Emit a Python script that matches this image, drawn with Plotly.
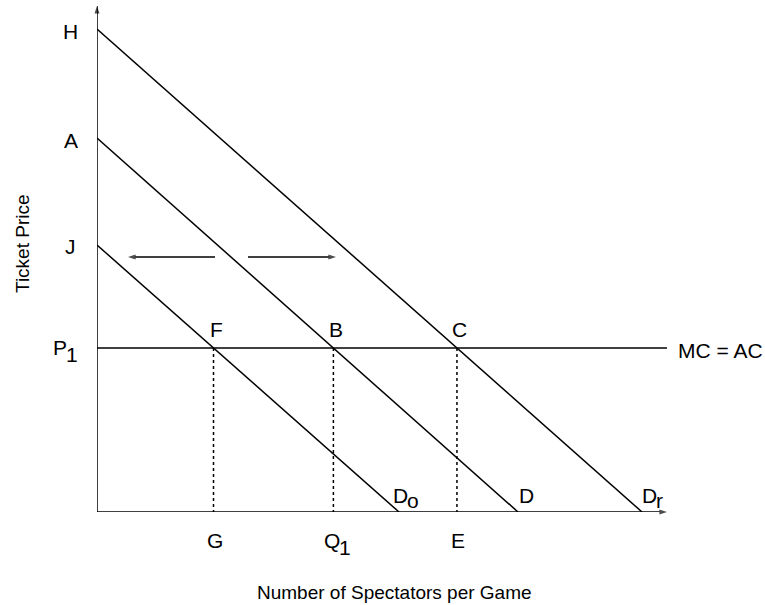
import plotly.graph_objects as go

# Demand curves: price intercept (vertical axis) and quantity intercept (horizontal axis)
curve_names = [("D", "o"), ("D", ""), ("D", "r")]
price_intercepts = [26.7, 37.4, 48.3]
quantity_intercepts = [30.2, 42.1, 54.5]
price_labels = ["J", "A", "H"]

# Price set where marginal cost equals average cost
p1 = 16.4
p1_label = ("P", "1")
mc_label = "MC = AC"
point_labels = ["F", "B", "C"]
quantity_labels = [("G", ""), ("Q", "1"), ("E", "")]

x_title = "Number of Spectators per Game"
y_title = "Ticket Price"

X_MAX = 57.5
Y_MAX = 51.0
FONT = "Liberation Sans, Arial, sans-serif"
BLACK = "#000000"
SIZE = 21

fig = go.Figure()


def segment(x, y, width=1.5, dash="solid", head=0):
    # straight segment; head > 0 puts an arrowhead of that size at the end point
    fig.add_trace(go.Scatter(
        x=x, y=y, mode="lines+markers" if head else "lines",
        line=dict(color=BLACK, width=width, dash=dash),
        marker=dict(symbol="arrow", angleref="previous", size=[0, head],
                    color=BLACK, line=dict(width=0)),
        hoverinfo="skip", showlegend=False, cliponaxis=False))


# Axes drawn as arrows from the origin
segment([0, 0], [0, Y_MAX - 0.4], head=8)
segment([0, 57.0], [0, 0], head=8)

# Demand lines
for p0, q0 in zip(price_intercepts, quantity_intercepts):
    segment([0, q0], [p0, 0])

# MC = AC line
segment([0, 57.0], [p1, p1])

# Quantities demanded at P1 on each curve, with dotted drop lines
quantities = [q0 * (1 - p1 / p0) for p0, q0 in zip(price_intercepts, quantity_intercepts)]
for q in quantities:
    segment([q, q], [p1, 0], dash="dot")

# Shift arrows between the curves
segment([11.8, 3.1], [25.5, 25.5], width=1.3, head=8)
segment([15.1, 23.9], [25.5, 25.5], width=1.3, head=8)

annotations = []


def label(x, y, text, xanchor="center", yanchor="middle", **kw):
    # placed in paper space so labels outside the axis ranges stay visible
    d = dict(x=x / X_MAX, y=y / Y_MAX, xref="paper", yref="paper", text=text,
             showarrow=False, xanchor=xanchor, yanchor=yanchor,
             font=dict(family=FONT, size=SIZE, color=BLACK))
    d.update(kw)
    annotations.append(d)


def sub_label(x, y, base, sub, drop=7):
    # base letter ends at x; its full-size subscript starts there, set lower
    label(x, y, base, xanchor="right")
    if sub:
        label(x, y, sub, xanchor="left", xshift=-5, yshift=-drop)


# Intercept labels on the price axis
for p0, t in zip(price_intercepts, price_labels):
    label(-2.65, p0 - 0.2, t)
sub_label(-2.85, p1 + 0.1, *p1_label)

# Curve labels at the quantity axis
for q0, (base, sub), dx in zip(quantity_intercepts, curve_names, [1.15, 1.75, 1.7]):
    sub_label(q0 + dx, 1.7, base, sub, drop=5)

# Intersection points and the quantities below them
for q, t in zip(quantities, point_labels):
    label(q + 0.3, p1 + 1.8, t)
for q, (base, sub) in zip(quantities, quantity_labels):
    if sub:
        sub_label(q + 0.85, -2.8, base, sub)
    else:
        label(q + 0.15, -2.8, base)

label(62.3, p1 - 0.2, mc_label)

# Axis titles, positioned from pixel offsets of the plot area
W, H = 765, 605
L, R, T, B = 97, 93, 2, 93
pw, ph = W - L - R, H - T - B
annotations.append(dict(x=(394 - L) / pw, y=(12 - B) / ph, xref="paper", yref="paper",
                        text=x_title, showarrow=False, xanchor="center", yanchor="middle",
                        font=dict(family=FONT, size=19, color=BLACK)))
annotations.append(dict(x=(22 - L) / pw, y=(361 - B) / ph, xref="paper", yref="paper",
                        text=y_title, showarrow=False, xanchor="center", yanchor="middle",
                        textangle=-90, font=dict(family=FONT, size=19, color=BLACK)))

fig.update_layout(
    annotations=annotations,
    width=W, height=H,
    margin=dict(l=L, r=R, t=T, b=B),
    paper_bgcolor="white", plot_bgcolor="white",
    xaxis=dict(range=[0, X_MAX], visible=False, fixedrange=True),
    yaxis=dict(range=[0, Y_MAX], visible=False, fixedrange=True),
)

fig.write_html("out.html")
